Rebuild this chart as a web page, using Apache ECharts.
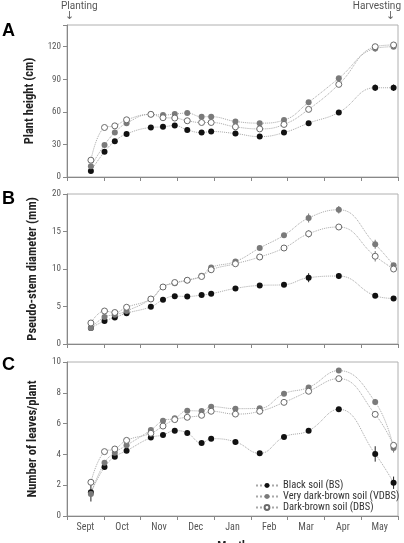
<!DOCTYPE html>
<html><head><meta charset="utf-8">
<script src="https://cdn.jsdelivr.net/npm/echarts@6/dist/echarts.min.js"></script>
<style>html,body{margin:0;padding:0;background:#fff}#c{width:404px;height:543px}</style>
</head><body><div id="c"></div>
<script>
// ---- data ----
const months = ['Sept','Oct','Nov','Dec','Jan','Feb','Mar','Apr','May'];
// sampling dates, in months elapsed since 1 Sept
const sampleMonths = [0.65,1.02,1.30,1.62,2.28,2.61,2.93,3.27,3.66,3.92,4.58,5.24,5.90,6.57,7.39,8.38,8.88];
const soilNames = ['Black soil (BS)','Very dark-brown soil (VDBS)','Dark-brown soil (DBS)'];

// A: plant height (cm)
const heightBS   = [5.6,23.3,32.9,39.7,45.6,46.2,47.4,43.4,40.9,41.9,40.0,37.2,40.9,49.6,59.5,82.2,82.2];
const heightVDBS = [9.9,29.5,40.9,49.6,57.7,57.0,58.0,58.9,55.5,55.5,51.2,49.6,52.4,68.8,90.9,118.4,120.0];
const heightDBS  = [15.5,45.6,47.1,52.7,57.7,54.6,54.3,51.8,50.2,50.2,46.2,44.3,48.4,62.3,85.3,120.0,121.6];
const heightErrBS   = [0,0,0,0,0,0,0,0,0,0,0,0,0,0,0,3,3];
const heightErrVDBS = [0,0,0,0,0,0,0,0,0,0,0,0,0,0,0,3,2];
const heightErrDBS  = [0,0,0,0,0,0,0,0,0,0,0,0,0,0,0,1,1];

// B: pseudo-stem diameter (mm)
const diamBS   = [2.14,3.08,3.53,4.10,4.96,5.90,6.38,6.34,6.52,6.70,7.41,7.81,7.90,8.84,9.06,6.43,6.07];
const diamVDBS = [2.14,3.60,3.90,4.40,6.00,7.60,8.10,8.50,9.10,10.2,11.0,12.8,14.5,16.8,17.9,13.3,10.5];
const diamDBS  = [2.80,4.40,4.20,4.90,6.00,7.60,8.20,8.50,9.00,9.90,10.7,11.6,12.8,14.7,15.6,11.7,10.0];
const diamErrBS   = [0,0,0,0,0,0,0,0,0,0,0,0,0,0.6,0.4,0.3,0.3];
const diamErrVDBS = [0,0,0,0,0,0,0,0,0,0,0,0,0,0.6,0.5,0.6,0.3];
const diamErrDBS  = [0,0,0,0,0,0,0,0,0,0,0,0,0,0.5,0,0.7,0.3];

// C: number of leaves per plant
const leavesBS   = [1.54,3.18,3.85,4.24,5.09,5.26,5.54,5.39,4.74,5.02,4.81,4.07,5.13,5.54,6.93,4.03,2.16];
const leavesVDBS = [1.43,3.46,4.11,4.59,5.58,6.19,6.34,6.84,6.82,7.10,6.97,6.99,7.94,8.35,9.44,7.40,4.42];
const leavesDBS  = [2.19,4.18,4.35,4.91,5.37,5.84,6.26,6.41,6.54,6.80,6.62,6.80,7.38,8.10,8.92,6.60,4.59];
const leavesErrBS   = [0.6,0,0,0,0,0,0,0,0,0,0,0,0,0,0,0.5,0.4];
const leavesErrVDBS = [0,0,0,0,0,0,0,0,0,0,0,0,0,0,0,0.2,0.3];
const leavesErrDBS  = [0.2,0,0,0,0,0,0,0,0,0,0,0,0,0,0,0.2,0.2];

const yTicksA = {min:0, max:140, interval:30};
const yTicksB = {min:0, max:20, interval:5};
const yTicksC = {min:0, max:10, interval:2};

// ---- chart ----
const FONT = '"Liberation Sans Narrow", "Roboto Condensed", Roboto, sans-serif';
const panels = [
  {top:25, height:152, name:'Plant height (cm)', y:yTicksA, data:[heightBS,heightVDBS,heightDBS], err:[heightErrBS,heightErrVDBS,heightErrDBS], labels:false},
  {top:194, height:150, name:'Pseudo-stem diameter (mm)', y:yTicksB, data:[diamBS,diamVDBS,diamDBS], err:[diamErrBS,diamErrVDBS,diamErrDBS], labels:false},
  {top:362, height:154, name:'Number of leaves/plant', y:yTicksC, data:[leavesBS,leavesVDBS,leavesDBS], err:[leavesErrBS,leavesErrVDBS,leavesErrDBS], labels:true}
];
const markerStyles = [
  {color:'#111', borderColor:'#111', borderWidth:0},
  {color:'#7a7a7a', borderColor:'#7a7a7a', borderWidth:0},
  {color:'#fff', borderColor:'#6a6a6a', borderWidth:1}
];
const barColors = ['#222','#777','#777'];

const grid=[], xAxis=[], yAxis=[], series=[];
panels.forEach((p,i)=>{
  grid.push({left:67, width:331, top:p.top, height:p.height, show:true, borderColor:'#b0b0b0', borderWidth:1,
    backgroundColor:'#fff', containLabel:false, outerBoundsMode:'none'});
  xAxis.push({type:'value', gridIndex:i, min:0, max:months.length, show:false});
  xAxis.push({type:'category', gridIndex:i, data:months, boundaryGap:true, position:'bottom',
    axisLine:{show:true, lineStyle:{color:'#888', width:1}},
    axisTick:{show:true, length:4, inside:false, lineStyle:{color:'#888'}},
    axisLabel:{show:p.labels, color:'#555', fontSize:10, fontFamily:FONT, margin:6},
    splitLine:{show:false},
    name: p.labels ? 'Month' : '', nameLocation:'middle', nameGap:25,
    nameTextStyle:{fontSize:12, fontWeight:'bold', color:'#222', fontFamily:FONT}
  });
  yAxis.push({type:'value', gridIndex:i, min:p.y.min, max:p.y.max, interval:p.y.interval,
    axisLine:{show:true, lineStyle:{color:'#888'}},
    axisTick:{show:true, length:4, lineStyle:{color:'#888'}},
    axisLabel:{color:'#555', fontSize:9, fontFamily:FONT, margin:6,
      formatter:(v)=> (v % p.y.interval === 0 ? String(v) : '')},
    splitLine:{show:false},
    name:p.name, nameLocation:'middle', nameGap:28, nameRotate:90,
    nameTextStyle:{fontSize:12.5, fontWeight:'bold', color:'#222', fontFamily:FONT}
  });
  const xi = i*2;
  p.data.forEach((vals,k)=>{
    const errs = p.err[k];
    series.push({
      type:'custom', name:soilNames[k]+' err', xAxisIndex:xi, yAxisIndex:i, silent:true, z:3,
      data: sampleMonths.map((m,j)=>[m, vals[j], errs[j]]),
      renderItem:(params, api)=>{
        const e = api.value(2);
        if(!e) return null;
        const x = api.value(0), y = api.value(1);
        const a = api.coord([x, y+e]), b = api.coord([x, y-e]);
        return {type:'line', shape:{x1:a[0], y1:a[1], x2:b[0], y2:b[1]}, style:{stroke:barColors[k], lineWidth:1}};
      }
    });
    series.push({
      type:'line', name:soilNames[k], xAxisIndex:xi, yAxisIndex:i, z:4,
      data: sampleMonths.map((m,j)=>[m, vals[j]]),
      smooth:0.45, symbol:'circle', symbolSize:6, showSymbol:true,
      lineStyle:{color:'#a8a8a8', width:1, type:'dotted'},
      itemStyle:markerStyles[k],
      emphasis:{disabled:true}
    });
  });
});

const chart = echarts.init(document.getElementById('c'), null, {renderer:'canvas'});
chart.setOption({
  animation:false,
  textStyle:{fontFamily:FONT},
  grid, xAxis, yAxis, series,
  legend:{
    data:soilNames, orient:'vertical', left:255, top:480,
    itemWidth:22, itemHeight:6, itemGap:0, padding:0,
    textStyle:{fontSize:10.5, color:'#333', fontFamily:FONT, lineHeight:9.5},
    selectedMode:false
  },
  graphic:[
    {type:'text', left:2, top:22, style:{text:'A', font:'bold 18px "Liberation Sans", Arial, sans-serif', fill:'#000'}},
    {type:'text', left:2, top:190, style:{text:'B', font:'bold 18px "Liberation Sans", Arial, sans-serif', fill:'#000'}},
    {type:'text', left:2, top:356, style:{text:'C', font:'bold 18px "Liberation Sans", Arial, sans-serif', fill:'#000'}},
    {type:'text', left:61, top:1, style:{text:'Planting', font:'10px "Liberation Sans Narrow", Roboto, sans-serif', fill:'#555'}},
    {type:'text', left:65, top:11, style:{text:'↓', font:'11px "DejaVu Sans", sans-serif', fill:'#666'}},
    {type:'text', right:3, top:1, style:{text:'Harvesting', font:'10px "Liberation Sans Narrow", Roboto, sans-serif', fill:'#555'}},
    {type:'text', left:386, top:11, style:{text:'↓', font:'11px "DejaVu Sans", sans-serif', fill:'#666'}}
  ]
});
</script>
</body></html>
